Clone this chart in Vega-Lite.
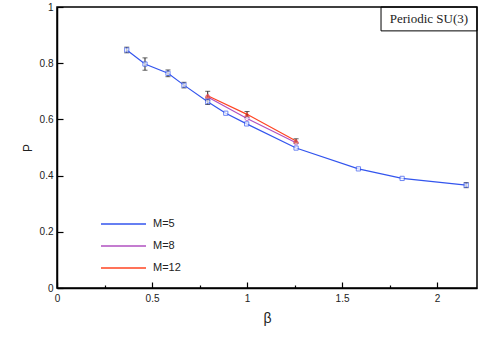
{
  "$schema": "https://vega.github.io/schema/vega-lite/v6.json",
  "width": 420,
  "height": 281,
  "autosize": "none",
  "padding": {"left": 57, "top": 7, "right": 8, "bottom": 58},
  "background": "white",
  "config": {
    "view": {"stroke": "black", "strokeWidth": 1.5},
    "axis": {
      "domainColor": "black", "domainWidth": 1.5, "tickColor": "black", "tickWidth": 1.2,
      "labelFont": "Liberation Sans", "labelFontSize": 10, "labelColor": "#222", "labelFlush": false,
      "titleFont": "Liberation Sans", "titleFontWeight": "normal", "titleColor": "#222",
      "grid": false
    }
  },
  "datasets": {
    "pts": [
      {"beta": 0.367, "P": 0.847, "M": "M=5", "lo": 0.837, "hi": 0.857},
      {"beta": 0.463, "P": 0.797, "M": "M=5", "lo": 0.775, "hi": 0.819},
      {"beta": 0.584, "P": 0.764, "M": "M=5", "lo": 0.752, "hi": 0.776},
      {"beta": 0.668, "P": 0.722, "M": "M=5", "lo": 0.712, "hi": 0.732},
      {"beta": 0.793, "P": 0.663, "M": "M=5", "lo": 0.653, "hi": 0.673},
      {"beta": 0.888, "P": 0.622, "M": "M=5", "lo": null, "hi": null},
      {"beta": 0.998, "P": 0.584, "M": "M=5", "lo": null, "hi": null},
      {"beta": 1.258, "P": 0.498, "M": "M=5", "lo": null, "hi": null},
      {"beta": 1.586, "P": 0.424, "M": "M=5", "lo": null, "hi": null},
      {"beta": 1.816, "P": 0.390, "M": "M=5", "lo": null, "hi": null},
      {"beta": 2.153, "P": 0.366, "M": "M=5", "lo": 0.357, "hi": 0.375},
      {"beta": 0.793, "P": 0.680, "M": "M=8", "lo": null, "hi": null},
      {"beta": 1.0, "P": 0.603, "M": "M=8", "lo": null, "hi": null},
      {"beta": 1.258, "P": 0.517, "M": "M=8", "lo": null, "hi": null},
      {"beta": 0.793, "P": 0.684, "M": "M=12", "lo": 0.668, "hi": 0.700},
      {"beta": 1.0, "P": 0.618, "M": "M=12", "lo": 0.608, "hi": 0.628},
      {"beta": 1.258, "P": 0.523, "M": "M=12", "lo": 0.515, "hi": 0.531}
    ],
    "box": [{"x": 1.705, "x2": 2.21, "y": 0.915, "y2": 1.0, "label": "Periodic SU(3)", "tx": 1.957, "ty": 0.9575}]
  },
  "layer": [
    {
      "data": {"name": "pts"},
      "mark": {"type": "line", "strokeWidth": 1.2},
      "encoding": {
        "x": {"field": "beta", "type": "quantitative", "scale": {"domain": [0, 2.21], "nice": false},
          "axis": {"values": [0, 0.25, 0.5, 0.75, 1, 1.25, 1.5, 1.75, 2],
            "labelExpr": "round(datum.value*4) % 2 == 0 ? '' + datum.value : ''",
            "tickSize": {"condition": {"test": "round(datum.value*4) % 2 == 0", "value": -6}, "value": -3},
            "labelPadding": 11, "title": "β", "titleFontSize": 14, "titlePadding": 8}},
        "y": {"field": "P", "type": "quantitative", "scale": {"domain": [0, 1], "nice": false},
          "axis": {"values": [0, 0.1, 0.2, 0.3, 0.4, 0.5, 0.6, 0.7, 0.8, 0.9, 1],
            "labelExpr": "round(datum.value*10) % 2 == 0 ? '' + datum.value : ''",
            "tickSize": {"condition": {"test": "round(datum.value*10) % 2 == 0", "value": -6}, "value": -3},
            "labelPadding": 10, "title": "P", "titleFontSize": 12, "titlePadding": 5}},
        "color": {"field": "M", "type": "nominal",
          "scale": {"domain": ["M=5", "M=8", "M=12"], "range": ["#3355ee", "#b050c0", "#ff4422"]},
          "legend": {"orient": "none", "legendX": 43, "legendY": 206, "title": null, "symbolType": "stroke",
            "symbolSize": 2025, "symbolStrokeWidth": 1.5, "clipHeight": 22, "labelFont": "Liberation Sans",
            "labelFontSize": 11, "labelColor": "#222", "labelOffset": 6, "rowPadding": 0}}
      }
    },
    {
      "data": {"name": "pts"},
      "transform": [{"filter": "datum.lo != null"}],
      "mark": {"type": "rule", "color": "#222", "strokeWidth": 1},
      "encoding": {"x": {"field": "beta", "type": "quantitative"}, "y": {"field": "lo", "type": "quantitative"}, "y2": {"field": "hi"}}
    },
    {
      "data": {"name": "pts"},
      "transform": [{"filter": "datum.lo != null"}],
      "mark": {"type": "tick", "color": "#222", "size": 5, "thickness": 1, "orient": "horizontal"},
      "encoding": {"x": {"field": "beta", "type": "quantitative"}, "y": {"field": "lo", "type": "quantitative"}}
    },
    {
      "data": {"name": "pts"},
      "transform": [{"filter": "datum.lo != null"}],
      "mark": {"type": "tick", "color": "#222", "size": 5, "thickness": 1, "orient": "horizontal"},
      "encoding": {"x": {"field": "beta", "type": "quantitative"}, "y": {"field": "hi", "type": "quantitative"}}
    },
    {
      "data": {"name": "pts"},
      "transform": [{"filter": "datum.M == 'M=5'"}],
      "mark": {"type": "point", "shape": "square", "filled": true, "fill": "white", "stroke": "#3355ee", "strokeWidth": 1, "size": 18},
      "encoding": {"x": {"field": "beta", "type": "quantitative"}, "y": {"field": "P", "type": "quantitative"}}
    },
    {
      "data": {"name": "pts"},
      "transform": [{"filter": "datum.M == 'M=8'"}],
      "mark": {"type": "point", "shape": "circle", "filled": true, "fill": "white", "stroke": "#b050c0", "strokeWidth": 1, "size": 18},
      "encoding": {"x": {"field": "beta", "type": "quantitative"}, "y": {"field": "P", "type": "quantitative"}}
    },
    {
      "data": {"name": "pts"},
      "transform": [{"filter": "datum.M == 'M=12'"}],
      "mark": {"type": "point", "shape": "triangle-up", "filled": true, "fill": "#aa2222", "stroke": "#ff4422", "strokeWidth": 1, "size": 18},
      "encoding": {"x": {"field": "beta", "type": "quantitative"}, "y": {"field": "P", "type": "quantitative"}}
    },
    {
      "data": {"name": "box"},
      "mark": {"type": "rect", "fill": "white", "fillOpacity": 0, "stroke": "black", "strokeWidth": 1},
      "encoding": {"x": {"field": "x", "type": "quantitative"}, "x2": {"field": "x2"}, "y": {"field": "y", "type": "quantitative"}, "y2": {"field": "y2"}}
    },
    {
      "data": {"name": "box"},
      "mark": {"type": "text", "font": "Liberation Serif", "fontSize": 13, "color": "#222", "align": "center", "baseline": "middle"},
      "encoding": {"x": {"field": "tx", "type": "quantitative"}, "y": {"field": "ty", "type": "quantitative"}, "text": {"field": "label"}}
    }
  ]
}
